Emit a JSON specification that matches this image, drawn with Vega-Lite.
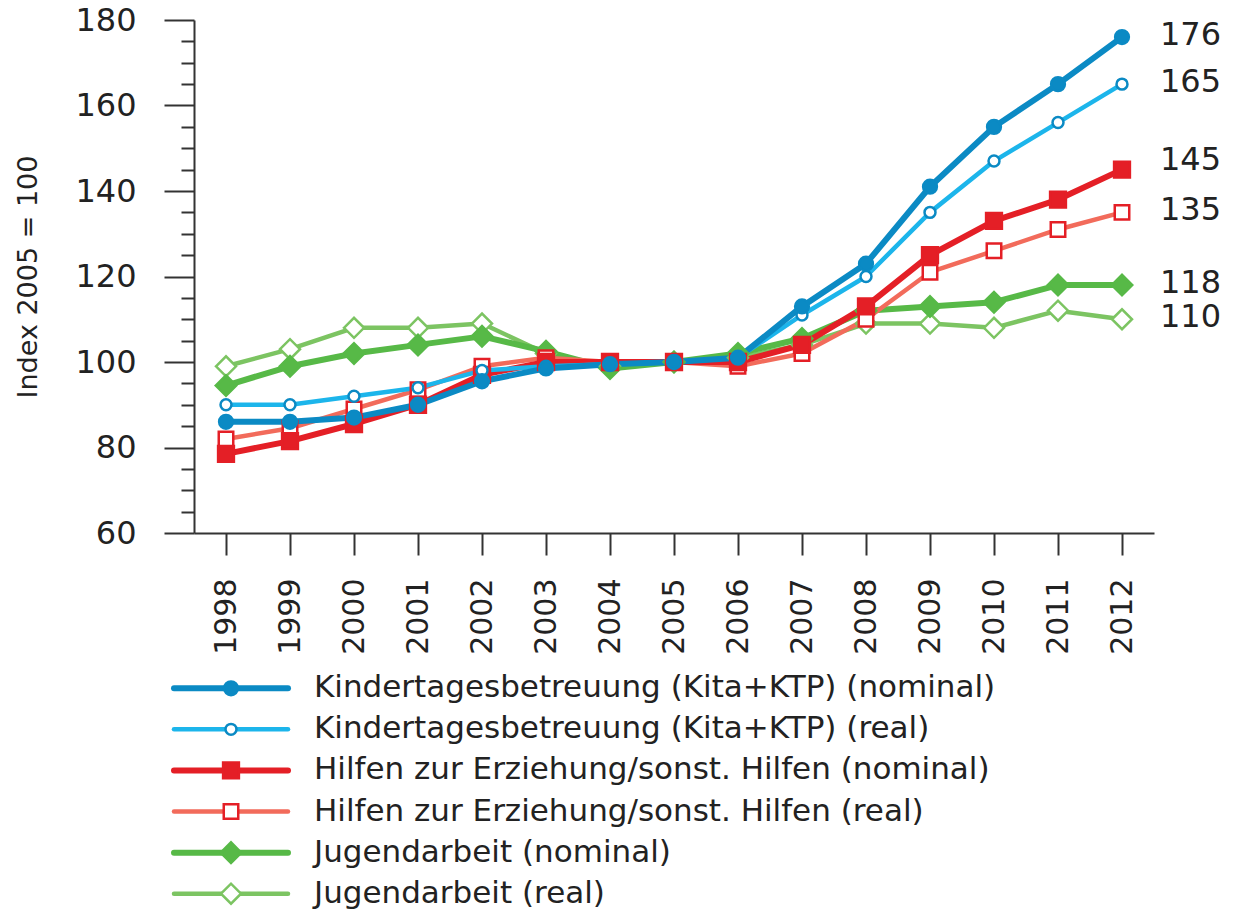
{
  "$schema": "https://vega.github.io/schema/vega-lite/v6.json",
  "padding": {"left": 14, "top": 4, "right": 5, "bottom": 0},
  "spacing": 17,
  "data": {"values": [
    {"series": "Jugendarbeit (real)", "year": 1998, "value": 99},
    {"series": "Jugendarbeit (real)", "year": 1999, "value": 103},
    {"series": "Jugendarbeit (real)", "year": 2000, "value": 108},
    {"series": "Jugendarbeit (real)", "year": 2001, "value": 108},
    {"series": "Jugendarbeit (real)", "year": 2002, "value": 109},
    {"series": "Jugendarbeit (real)", "year": 2003, "value": 102},
    {"series": "Jugendarbeit (real)", "year": 2004, "value": 99},
    {"series": "Jugendarbeit (real)", "year": 2005, "value": 100},
    {"series": "Jugendarbeit (real)", "year": 2006, "value": 101},
    {"series": "Jugendarbeit (real)", "year": 2007, "value": 104},
    {"series": "Jugendarbeit (real)", "year": 2008, "value": 109},
    {"series": "Jugendarbeit (real)", "year": 2009, "value": 109},
    {"series": "Jugendarbeit (real)", "year": 2010, "value": 108},
    {"series": "Jugendarbeit (real)", "year": 2011, "value": 112},
    {"series": "Jugendarbeit (real)", "year": 2012, "value": 110},
    {"series": "Jugendarbeit (nominal)", "year": 1998, "value": 94.5},
    {"series": "Jugendarbeit (nominal)", "year": 1999, "value": 99},
    {"series": "Jugendarbeit (nominal)", "year": 2000, "value": 102},
    {"series": "Jugendarbeit (nominal)", "year": 2001, "value": 104},
    {"series": "Jugendarbeit (nominal)", "year": 2002, "value": 106},
    {"series": "Jugendarbeit (nominal)", "year": 2003, "value": 102.5},
    {"series": "Jugendarbeit (nominal)", "year": 2004, "value": 98.5},
    {"series": "Jugendarbeit (nominal)", "year": 2005, "value": 100},
    {"series": "Jugendarbeit (nominal)", "year": 2006, "value": 102},
    {"series": "Jugendarbeit (nominal)", "year": 2007, "value": 105.5},
    {"series": "Jugendarbeit (nominal)", "year": 2008, "value": 112},
    {"series": "Jugendarbeit (nominal)", "year": 2009, "value": 113},
    {"series": "Jugendarbeit (nominal)", "year": 2010, "value": 114},
    {"series": "Jugendarbeit (nominal)", "year": 2011, "value": 118},
    {"series": "Jugendarbeit (nominal)", "year": 2012, "value": 118},
    {"series": "Hilfen zur Erziehung/sonst. Hilfen (real)", "year": 1998, "value": 82},
    {"series": "Hilfen zur Erziehung/sonst. Hilfen (real)", "year": 1999, "value": 84.5},
    {"series": "Hilfen zur Erziehung/sonst. Hilfen (real)", "year": 2000, "value": 89},
    {"series": "Hilfen zur Erziehung/sonst. Hilfen (real)", "year": 2001, "value": 93.5},
    {"series": "Hilfen zur Erziehung/sonst. Hilfen (real)", "year": 2002, "value": 99},
    {"series": "Hilfen zur Erziehung/sonst. Hilfen (real)", "year": 2003, "value": 101},
    {"series": "Hilfen zur Erziehung/sonst. Hilfen (real)", "year": 2004, "value": 100},
    {"series": "Hilfen zur Erziehung/sonst. Hilfen (real)", "year": 2005, "value": 100},
    {"series": "Hilfen zur Erziehung/sonst. Hilfen (real)", "year": 2006, "value": 99},
    {"series": "Hilfen zur Erziehung/sonst. Hilfen (real)", "year": 2007, "value": 102},
    {"series": "Hilfen zur Erziehung/sonst. Hilfen (real)", "year": 2008, "value": 110},
    {"series": "Hilfen zur Erziehung/sonst. Hilfen (real)", "year": 2009, "value": 121},
    {"series": "Hilfen zur Erziehung/sonst. Hilfen (real)", "year": 2010, "value": 126},
    {"series": "Hilfen zur Erziehung/sonst. Hilfen (real)", "year": 2011, "value": 131},
    {"series": "Hilfen zur Erziehung/sonst. Hilfen (real)", "year": 2012, "value": 135},
    {"series": "Hilfen zur Erziehung/sonst. Hilfen (nominal)", "year": 1998, "value": 78.5},
    {"series": "Hilfen zur Erziehung/sonst. Hilfen (nominal)", "year": 1999, "value": 81.5},
    {"series": "Hilfen zur Erziehung/sonst. Hilfen (nominal)", "year": 2000, "value": 85.5},
    {"series": "Hilfen zur Erziehung/sonst. Hilfen (nominal)", "year": 2001, "value": 90},
    {"series": "Hilfen zur Erziehung/sonst. Hilfen (nominal)", "year": 2002, "value": 97},
    {"series": "Hilfen zur Erziehung/sonst. Hilfen (nominal)", "year": 2003, "value": 100},
    {"series": "Hilfen zur Erziehung/sonst. Hilfen (nominal)", "year": 2004, "value": 100},
    {"series": "Hilfen zur Erziehung/sonst. Hilfen (nominal)", "year": 2005, "value": 100},
    {"series": "Hilfen zur Erziehung/sonst. Hilfen (nominal)", "year": 2006, "value": 100},
    {"series": "Hilfen zur Erziehung/sonst. Hilfen (nominal)", "year": 2007, "value": 104},
    {"series": "Hilfen zur Erziehung/sonst. Hilfen (nominal)", "year": 2008, "value": 113},
    {"series": "Hilfen zur Erziehung/sonst. Hilfen (nominal)", "year": 2009, "value": 125},
    {"series": "Hilfen zur Erziehung/sonst. Hilfen (nominal)", "year": 2010, "value": 133},
    {"series": "Hilfen zur Erziehung/sonst. Hilfen (nominal)", "year": 2011, "value": 138},
    {"series": "Hilfen zur Erziehung/sonst. Hilfen (nominal)", "year": 2012, "value": 145},
    {"series": "Kindertagesbetreuung (Kita+KTP) (real)", "year": 1998, "value": 90},
    {"series": "Kindertagesbetreuung (Kita+KTP) (real)", "year": 1999, "value": 90},
    {"series": "Kindertagesbetreuung (Kita+KTP) (real)", "year": 2000, "value": 92},
    {"series": "Kindertagesbetreuung (Kita+KTP) (real)", "year": 2001, "value": 94},
    {"series": "Kindertagesbetreuung (Kita+KTP) (real)", "year": 2002, "value": 98},
    {"series": "Kindertagesbetreuung (Kita+KTP) (real)", "year": 2003, "value": 99},
    {"series": "Kindertagesbetreuung (Kita+KTP) (real)", "year": 2004, "value": 99.5},
    {"series": "Kindertagesbetreuung (Kita+KTP) (real)", "year": 2005, "value": 100},
    {"series": "Kindertagesbetreuung (Kita+KTP) (real)", "year": 2006, "value": 101},
    {"series": "Kindertagesbetreuung (Kita+KTP) (real)", "year": 2007, "value": 111},
    {"series": "Kindertagesbetreuung (Kita+KTP) (real)", "year": 2008, "value": 120},
    {"series": "Kindertagesbetreuung (Kita+KTP) (real)", "year": 2009, "value": 135},
    {"series": "Kindertagesbetreuung (Kita+KTP) (real)", "year": 2010, "value": 147},
    {"series": "Kindertagesbetreuung (Kita+KTP) (real)", "year": 2011, "value": 156},
    {"series": "Kindertagesbetreuung (Kita+KTP) (real)", "year": 2012, "value": 165},
    {"series": "Kindertagesbetreuung (Kita+KTP) (nominal)", "year": 1998, "value": 86},
    {"series": "Kindertagesbetreuung (Kita+KTP) (nominal)", "year": 1999, "value": 86},
    {"series": "Kindertagesbetreuung (Kita+KTP) (nominal)", "year": 2000, "value": 87},
    {"series": "Kindertagesbetreuung (Kita+KTP) (nominal)", "year": 2001, "value": 90},
    {"series": "Kindertagesbetreuung (Kita+KTP) (nominal)", "year": 2002, "value": 95.5},
    {"series": "Kindertagesbetreuung (Kita+KTP) (nominal)", "year": 2003, "value": 98.5},
    {"series": "Kindertagesbetreuung (Kita+KTP) (nominal)", "year": 2004, "value": 99.5},
    {"series": "Kindertagesbetreuung (Kita+KTP) (nominal)", "year": 2005, "value": 100},
    {"series": "Kindertagesbetreuung (Kita+KTP) (nominal)", "year": 2006, "value": 101},
    {"series": "Kindertagesbetreuung (Kita+KTP) (nominal)", "year": 2007, "value": 113},
    {"series": "Kindertagesbetreuung (Kita+KTP) (nominal)", "year": 2008, "value": 123},
    {"series": "Kindertagesbetreuung (Kita+KTP) (nominal)", "year": 2009, "value": 141},
    {"series": "Kindertagesbetreuung (Kita+KTP) (nominal)", "year": 2010, "value": 155},
    {"series": "Kindertagesbetreuung (Kita+KTP) (nominal)", "year": 2011, "value": 165},
    {"series": "Kindertagesbetreuung (Kita+KTP) (nominal)", "year": 2012, "value": 176}
  ]},
  "vconcat": [
    {
      "width": 960,
      "height": 513,
      "encoding": {
        "x": {"field": "year", "type": "ordinal", "scale": {"type": "point", "padding": 0.5},
              "axis": {"title": null, "labelAngle": 270, "tickSize": 22, "labelPadding": 23, "labelFontSize": 30, "grid": false}},
        "y": {"field": "value", "type": "quantitative", "scale": {"domain": [60, 180], "nice": false, "zero": false},
              "axis": {"title": "Index 2005 = 100", "titleFontSize": 27, "titlePadding": 32,
                       "values": [60,65,70,75,80,85,90,95,100,105,110,115,120,125,130,135,140,145,150,155,160,165,170,175,180],
                       "labelExpr": "datum.value % 20 === 0 ? datum.label : ''",
                       "tickSize": {"condition": {"test": "datum.value % 20 === 0", "value": 30}, "value": 13},
                       "labelFontSize": 32, "labelPadding": 28, "grid": false}}
      },
      "layer": [
        {
          "mark": {"type": "line", "strokeCap": "round", "strokeJoin": "round"},
          "encoding": {
            "color": {"field": "series", "type": "nominal", "legend": null,
              "scale": {"domain": ["Kindertagesbetreuung (Kita+KTP) (nominal)", "Kindertagesbetreuung (Kita+KTP) (real)", "Hilfen zur Erziehung/sonst. Hilfen (nominal)", "Hilfen zur Erziehung/sonst. Hilfen (real)", "Jugendarbeit (nominal)", "Jugendarbeit (real)"],
                        "range": ["#0b8ac4", "#1cb5eb", "#e41f26", "#f26b5b", "#57b947", "#7cc462"]}},
            "strokeWidth": {"field": "series", "type": "nominal", "legend": null,
              "scale": {"type": "ordinal", "domain": ["Kindertagesbetreuung (Kita+KTP) (nominal)", "Kindertagesbetreuung (Kita+KTP) (real)", "Hilfen zur Erziehung/sonst. Hilfen (nominal)", "Hilfen zur Erziehung/sonst. Hilfen (real)", "Jugendarbeit (nominal)", "Jugendarbeit (real)"],
                        "range": [6, 4.5, 6, 4.5, 6, 4.5]}}
          }
        },
        {
          "mark": {"type": "point", "opacity": 1, "strokeWidth": 2.5},
          "encoding": {
            "shape": {"field": "series", "type": "nominal", "legend": null,
              "scale": {"type": "ordinal", "domain": ["Kindertagesbetreuung (Kita+KTP) (nominal)", "Kindertagesbetreuung (Kita+KTP) (real)", "Hilfen zur Erziehung/sonst. Hilfen (nominal)", "Hilfen zur Erziehung/sonst. Hilfen (real)", "Jugendarbeit (nominal)", "Jugendarbeit (real)"],
                        "range": ["circle", "circle", "square", "square", "diamond", "diamond"]}},
            "fill": {"field": "series", "type": "nominal", "legend": null,
              "scale": {"type": "ordinal", "domain": ["Kindertagesbetreuung (Kita+KTP) (nominal)", "Kindertagesbetreuung (Kita+KTP) (real)", "Hilfen zur Erziehung/sonst. Hilfen (nominal)", "Hilfen zur Erziehung/sonst. Hilfen (real)", "Jugendarbeit (nominal)", "Jugendarbeit (real)"],
                        "range": ["#0b8ac4", "#ffffff", "#e41f26", "#ffffff", "#57b947", "#ffffff"]}},
            "stroke": {"field": "series", "type": "nominal", "legend": null,
              "scale": {"type": "ordinal", "domain": ["Kindertagesbetreuung (Kita+KTP) (nominal)", "Kindertagesbetreuung (Kita+KTP) (real)", "Hilfen zur Erziehung/sonst. Hilfen (nominal)", "Hilfen zur Erziehung/sonst. Hilfen (real)", "Jugendarbeit (nominal)", "Jugendarbeit (real)"],
                        "range": ["#0b8ac4", "#0b8ac4", "#e41f26", "#e41f26", "#57b947", "#7cc462"]}},
            "size": {"field": "series", "type": "nominal", "legend": null,
              "scale": {"type": "ordinal", "domain": ["Kindertagesbetreuung (Kita+KTP) (nominal)", "Kindertagesbetreuung (Kita+KTP) (real)", "Hilfen zur Erziehung/sonst. Hilfen (nominal)", "Hilfen zur Erziehung/sonst. Hilfen (real)", "Jugendarbeit (nominal)", "Jugendarbeit (real)"],
                        "range": [190, 120, 250, 210, 420, 400]}}
          }
        },
        {
          "transform": [{"filter": "datum.year === 2012 && datum.value !== 145"}],
          "mark": {"type": "text", "align": "left", "baseline": "middle", "dx": 38, "dy": -2, "font": "DejaVu Sans", "fontSize": 32, "color": "#222222"},
          "encoding": {
            "text": {"field": "value", "type": "quantitative", "format": "d"}
          }
        },
        {
          "transform": [{"filter": "datum.year === 2012 && datum.value === 145"}],
          "mark": {"type": "text", "align": "left", "baseline": "middle", "dx": 38, "dy": -10, "font": "DejaVu Sans", "fontSize": 32, "color": "#222222"},
          "encoding": {
            "text": {"field": "value", "type": "quantitative", "format": "d"}
          }
        }
      ]
    },
    {
      "width": 960,
      "height": 226,
      "transform": [{"filter": "datum.year === 2012"}],
      "encoding": {
        "y": {"field": "series", "type": "nominal", "axis": null,
              "scale": {"type": "point", "padding": 0.25, "domain": ["Kindertagesbetreuung (Kita+KTP) (nominal)", "Kindertagesbetreuung (Kita+KTP) (real)", "Hilfen zur Erziehung/sonst. Hilfen (nominal)", "Hilfen zur Erziehung/sonst. Hilfen (real)", "Jugendarbeit (nominal)", "Jugendarbeit (real)"]}}
      },
      "layer": [
        {
          "mark": {"type": "rule", "strokeCap": "round"},
          "encoding": {
            "x": {"datum": -20, "type": "quantitative", "scale": {"domain": [0, 960], "nice": false, "zero": false}, "axis": null},
            "x2": {"datum": 94},
            "color": {"field": "series", "type": "nominal", "legend": null,
              "scale": {"domain": ["Kindertagesbetreuung (Kita+KTP) (nominal)", "Kindertagesbetreuung (Kita+KTP) (real)", "Hilfen zur Erziehung/sonst. Hilfen (nominal)", "Hilfen zur Erziehung/sonst. Hilfen (real)", "Jugendarbeit (nominal)", "Jugendarbeit (real)"],
                        "range": ["#0b8ac4", "#1cb5eb", "#e41f26", "#f26b5b", "#57b947", "#7cc462"]}},
            "strokeWidth": {"field": "series", "type": "nominal", "legend": null,
              "scale": {"type": "ordinal", "domain": ["Kindertagesbetreuung (Kita+KTP) (nominal)", "Kindertagesbetreuung (Kita+KTP) (real)", "Hilfen zur Erziehung/sonst. Hilfen (nominal)", "Hilfen zur Erziehung/sonst. Hilfen (real)", "Jugendarbeit (nominal)", "Jugendarbeit (real)"],
                        "range": [6, 4.5, 6, 4.5, 6, 4.5]}}
          }
        },
        {
          "mark": {"type": "point", "opacity": 1, "strokeWidth": 2.5},
          "encoding": {
            "x": {"datum": 37, "type": "quantitative"},
            "shape": {"field": "series", "type": "nominal", "legend": null,
              "scale": {"type": "ordinal", "domain": ["Kindertagesbetreuung (Kita+KTP) (nominal)", "Kindertagesbetreuung (Kita+KTP) (real)", "Hilfen zur Erziehung/sonst. Hilfen (nominal)", "Hilfen zur Erziehung/sonst. Hilfen (real)", "Jugendarbeit (nominal)", "Jugendarbeit (real)"],
                        "range": ["circle", "circle", "square", "square", "diamond", "diamond"]}},
            "fill": {"field": "series", "type": "nominal", "legend": null,
              "scale": {"type": "ordinal", "domain": ["Kindertagesbetreuung (Kita+KTP) (nominal)", "Kindertagesbetreuung (Kita+KTP) (real)", "Hilfen zur Erziehung/sonst. Hilfen (nominal)", "Hilfen zur Erziehung/sonst. Hilfen (real)", "Jugendarbeit (nominal)", "Jugendarbeit (real)"],
                        "range": ["#0b8ac4", "#ffffff", "#e41f26", "#ffffff", "#57b947", "#ffffff"]}},
            "stroke": {"field": "series", "type": "nominal", "legend": null,
              "scale": {"type": "ordinal", "domain": ["Kindertagesbetreuung (Kita+KTP) (nominal)", "Kindertagesbetreuung (Kita+KTP) (real)", "Hilfen zur Erziehung/sonst. Hilfen (nominal)", "Hilfen zur Erziehung/sonst. Hilfen (real)", "Jugendarbeit (nominal)", "Jugendarbeit (real)"],
                        "range": ["#0b8ac4", "#0b8ac4", "#e41f26", "#e41f26", "#57b947", "#7cc462"]}},
            "size": {"field": "series", "type": "nominal", "legend": null,
              "scale": {"type": "ordinal", "domain": ["Kindertagesbetreuung (Kita+KTP) (nominal)", "Kindertagesbetreuung (Kita+KTP) (real)", "Hilfen zur Erziehung/sonst. Hilfen (nominal)", "Hilfen zur Erziehung/sonst. Hilfen (real)", "Jugendarbeit (nominal)", "Jugendarbeit (real)"],
                        "range": [190, 120, 250, 210, 420, 400]}}
          }
        },
        {
          "mark": {"type": "text", "align": "left", "baseline": "middle", "font": "DejaVu Sans", "fontSize": 31, "color": "#222222"},
          "encoding": {
            "x": {"datum": 120, "type": "quantitative"},
            "text": {"field": "series", "type": "nominal"}
          }
        }
      ]
    }
  ],
  "config": {
    "view": {"stroke": null},
    "font": "DejaVu Sans",
    "axis": {"domainColor": "#333333", "tickColor": "#333333", "domainWidth": 2, "tickWidth": 2,
             "labelColor": "#222222", "labelFont": "DejaVu Sans", "titleFont": "DejaVu Sans",
             "titleFontWeight": "normal", "titleColor": "#222222"}
  }
}
